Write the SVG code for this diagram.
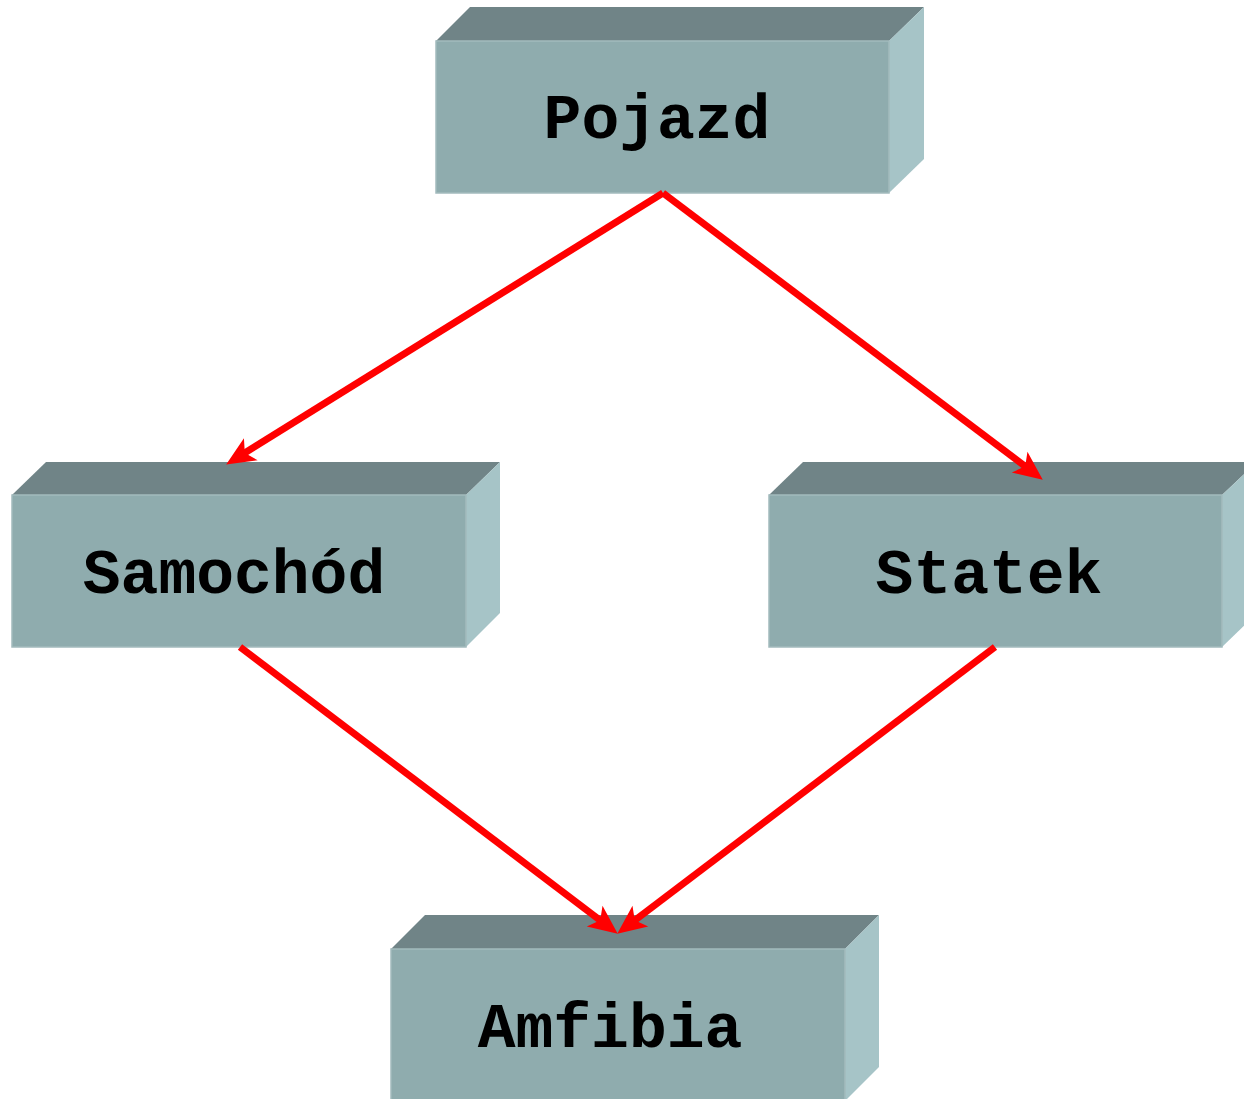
<svg xmlns="http://www.w3.org/2000/svg" width="1244" height="1099" viewBox="0 0 1244 1099">
<style>
.front{fill:#8FACAE;stroke:#A3BBBD;stroke-width:1.5}
.top{fill:#708487}
.side{fill:#A6C4C7}
.lbl{font-family:"Liberation Mono","Courier New",monospace;font-weight:bold;font-size:63px;fill:#000;text-anchor:middle}
.conn{stroke:#FF0000;stroke-width:7;fill:none;marker-end:url(#ah)}
</style>
<defs>
<marker id="ah" markerUnits="userSpaceOnUse" markerWidth="30" markerHeight="26" viewBox="0 -13 30 26" refX="18" refY="0" orient="auto" overflow="visible">
<path d="M0,-13 L29,0 L0,13 L7,0 Z" fill="#FF0000"/>
</marker>
</defs>
<g id="node-pojazd">
<polygon class="top" points="436,41 470,7 924,7 889,41"/>
<polygon class="side" points="889,41 924,7 924,159 889,193"/>
<rect class="front" x="436" y="41" width="453" height="152"/>
<text class="lbl" x="657" y="138">Pojazd</text>
</g>
<g id="node-samochod">
<polygon class="top" points="12,495 46,462 500,462 466,495"/>
<polygon class="side" points="466,495 500,462 500,613 466,647"/>
<rect class="front" x="12" y="495" width="454" height="152"/>
<text class="lbl" x="234" y="593">Samochód</text>
</g>
<g id="node-statek">
<polygon class="top" points="769,495 803,462 1257,462 1222,495"/>
<polygon class="side" points="1222,495 1257,462 1257,613 1222,647"/>
<rect class="front" x="769" y="495" width="453" height="152"/>
<text class="lbl" x="989" y="593">Statek</text>
</g>
<g id="node-amfibia">
<polygon class="top" points="391,949 425,915 879,915 845,949"/>
<polygon class="side" points="845,949 879,915 879,1067 845,1101"/>
<rect class="front" x="391" y="949" width="454" height="152"/>
<text class="lbl" x="610" y="1047">Amfibia</text>
</g>
<g id="connectors">
<line class="conn" x1="663" y1="193" x2="235.5" y2="458.7"/>
<line class="conn" x1="663" y1="193" x2="1034" y2="473"/>
<line class="conn" x1="240" y1="647" x2="609" y2="927"/>
<line class="conn" x1="995" y1="647" x2="626" y2="927"/>
</g>
</svg>
